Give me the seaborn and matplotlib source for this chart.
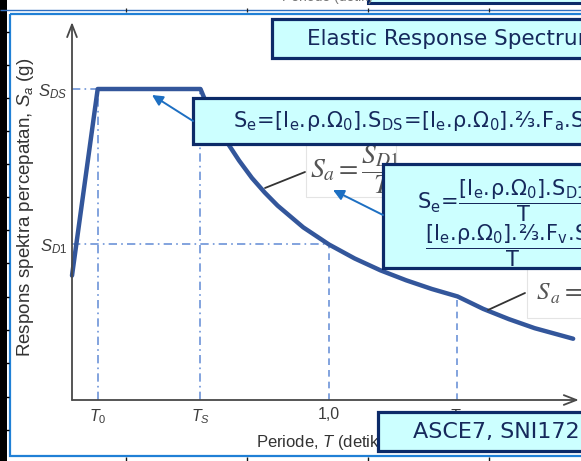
import numpy as np
import pandas as pd
import matplotlib.pyplot as plt
import seaborn as sns
from matplotlib.patches import Rectangle, FancyArrowPatch

# spectrum parameters (Sa expressed in units of S_DS)
S_DS = 1.0
S_D1 = 0.5
T_0 = 0.1
T_S = 0.5
T_L = 1.5

# points
period = [0.0, 0.1, 0.5, 0.52, 0.55, 0.6, 0.65, 0.7, 0.75, 0.8, 0.9, 1.0,
          1.1, 1.2, 1.3, 1.4, 1.5, 1.6, 1.7, 1.8, 1.95]
sa = [0.40, 1.0, 1.0, 0.96, 0.91, 0.833, 0.77, 0.714, 0.667, 0.625, 0.555, 0.50,
      0.455, 0.417, 0.385, 0.357, 0.333, 0.293, 0.26, 0.231, 0.197]

x_ticks = [T_0, T_S, 1.0, T_L]
x_ticklabels = [r'$\mathit{T_0}$', r'$\mathit{T_S}$', '1,0', r'$\mathit{T_L}$']
y_ticks = [S_D1, S_DS]
y_ticklabels = [r'$\mathit{S_{D1}}$', r'$\mathit{S_{DS}}$']

x_label = r'Periode, $\mathit{T}$ (detik)'
y_label = r'Respons spektra percepatan, $\mathit{S_a}$ (g)'
title_text = 'Elastic Response Spectrum'
# ".\!" and "\!=\!" cancel mathtext's automatic spacing around dots and "="
formula_ds = (r'$\mathregular{S_e\!=\![I_e.\!\rho.\!\Omega_0].\!S_{DS}\!=\!'
              r'[I_e.\!\rho.\!\Omega_0].\!⅔.\!F_a.\!S_S}$')
formula_d1 = r'$\mathregular{S_e\!=\!\dfrac{[I_e.\!\rho.\!\Omega_0].\!S_{D1}}{T}}$'
formula_d1b = r'$\mathregular{\dfrac{[I_e.\!\rho.\!\Omega_0].\!⅔.\!F_v.\!S_1}{T}}$'
code_text = 'ASCE7, SNI1726'

CURVE = '#33569b'
GUIDE = '#6d94d8'
AXIS = '#484848'
BOX_FILL = '#ccffff'
BOX_EDGE = '#0c2a68'
BOX_TEXT = '#16295c'
ARROW = '#1d6fc2'
FRAME = '#2080d6'

sns.set_style('white')
plt.rcParams['font.family'] = ['DejaVu Sans']
plt.rcParams['mathtext.fontset'] = 'custom'
plt.rcParams['mathtext.it'] = 'Liberation Sans:italic'
plt.rcParams['mathtext.rm'] = 'Liberation Sans'
plt.rcParams['mathtext.sf'] = 'Liberation Sans'
plt.rcParams['mathtext.bf'] = 'Liberation Sans:bold'

W, H = 581, 461
fig = plt.figure(figsize=(W / 100, H / 100), dpi=100)
fig.patch.set_facecolor('white')

# chart axes: origin at pixel (72, 400), 1 s = 257 px, S_DS = 311 px
ax = fig.add_axes([72 / W, (H - 400) / H, (W - 72) / W, 379 / H])
ax.set_xlim(0, (W - 72) / 257)
ax.set_ylim(0, 379 / 311)
ax.patch.set_alpha(0)

# guide lines
ax.hlines(S_DS, 0, T_0, color=GUIDE, lw=1.2, linestyles=(0, (5, 2.5, 1, 2.5)))
ax.hlines(S_D1, 0, 1.0, color=GUIDE, lw=1.2, linestyles=(0, (5, 2.5, 1, 2.5)))
ax.vlines([T_0, T_S], 0, S_DS, color=GUIDE, lw=1.2, linestyles=(0, (5, 2.5, 1, 2.5)))
ax.vlines(1.0, 0, S_D1, color=GUIDE, lw=1.2, linestyles=(0, (4, 3)))
ax.vlines(T_L, 0, sa[period.index(T_L)], color=GUIDE, lw=1.2, linestyles=(0, (4, 3)))

sns.lineplot(x=period, y=sa, ax=ax, sort=False, color=CURVE, lw=3.2,
             solid_joinstyle='round', clip_on=False, zorder=3)

for s in ax.spines.values():
    s.set_visible(False)
ax.annotate('', xy=(0, 1.215), xytext=(0, 0), annotation_clip=False,
            arrowprops=dict(arrowstyle='->,head_length=0.9,head_width=0.35',
                            color=AXIS, lw=1.3, shrinkA=0, shrinkB=0))
ax.annotate('', xy=(1.972, 0), xytext=(0, 0), annotation_clip=False,
            arrowprops=dict(arrowstyle='->,head_length=0.9,head_width=0.35',
                            color=AXIS, lw=1.3, shrinkA=0, shrinkB=0))

ax.set_xticks(x_ticks, x_ticklabels, fontfamily='Liberation Sans', fontsize=11.5, color='#3c3c3c')
ax.set_yticks(y_ticks, y_ticklabels, fontfamily='Liberation Sans', fontsize=12, color='#3c3c3c')
ax.tick_params(axis='x', length=0, pad=5)
ax.tick_params(axis='y', length=0, pad=3.5)
ax.set_xlabel(x_label, fontfamily='Liberation Sans', fontsize=12, color='#333333')
ax.set_ylabel(y_label, fontfamily='Liberation Sans', fontsize=13.5, color='#333333')
ax.xaxis.set_label_coords((320 - 72) / 509, -33 / 379)
ax.yaxis.set_label_coords((36 - 72) / 509, (400 - 207) / 379)

# slide decorations in pixel coordinates
deco = fig.add_axes([0, 0, 1, 1], zorder=5)
deco.set_xlim(0, W)
deco.set_ylim(H, 0)
deco.axis('off')
deco.patch.set_alpha(0)

# window frame / rulers
deco.add_patch(Rectangle((0, 0), 7, H, fc='black', ec='none'))
deco.hlines([32, 65, 98, 131, 164, 197, 230, 263, 297, 330, 363, 397, 430],
            6, 9, color='black', lw=1)
deco.hlines(10.5, 0, W, color='#2f6fc0', lw=1.0)
deco.vlines([126, 247, 368, 489], 8.5, 12.5, color='#222222', lw=0.9)
deco.vlines([126, 247, 368, 489], 457, 461, color='#111111', lw=1)
deco.add_patch(Rectangle((9.5, 14), 620, 442, fc='none', ec=FRAME, lw=1.6))
deco.add_patch(Rectangle((368, -8), 240, 11, fc=BOX_FILL, ec=BOX_EDGE, lw=2.2))
deco.text(282, 1.5, 'Periode (detik)', fontfamily='Liberation Sans', fontsize=10,
          color='#777777', va='baseline', ha='left')

# pasted formula pictures
deco.add_patch(Rectangle((306, 140), 90, 57, fc='white', ec='#e4e4e4', lw=0.8, zorder=1))
deco.text(310, 170, r'$S_a = \dfrac{S_{D1}}{T}$', math_fontfamily='stix', fontsize=20,
          color='#555555', va='center', ha='left', zorder=2)
deco.plot([265, 305], [188, 172], color='#333333', lw=1.3, zorder=2)
deco.add_patch(Rectangle((527, 268), 80, 50, fc='white', ec='#e4e4e4', lw=0.8, zorder=1))
deco.text(536, 300, r'$S_{\,a}=\dfrac{S_{D1}T_L}{T^2}$', math_fontfamily='stix', fontsize=18,
          color='#555555', va='baseline', ha='left', zorder=2)
deco.plot([488, 525], [310, 293], color='#333333', lw=1.3, zorder=2)

# callout boxes
for x0, y0, x1, y1 in [(272, 19, 620, 58), (193, 98, 620, 144),
                       (383, 164, 620, 268), (378, 412, 620, 451)]:
    deco.add_patch(Rectangle((x0, y0), x1 - x0, y1 - y0, fc=BOX_FILL, ec=BOX_EDGE,
                             lw=2.3, zorder=4))

deco.text(307, 39, title_text, fontsize=15.5, color=BOX_TEXT, va='center', ha='left', zorder=6)
deco.text(233, 121, formula_ds, fontsize=15, color=BOX_TEXT, va='center', ha='left', zorder=6)
deco.text(417, 201, formula_d1, fontsize=15, color=BOX_TEXT, va='center', ha='left', zorder=6)
deco.text(425, 246, formula_d1b, fontsize=15, color=BOX_TEXT, va='center', ha='left', zorder=6)
deco.text(413, 432, code_text, fontsize=16, color=BOX_TEXT, va='center', ha='left', zorder=6)

deco.add_patch(FancyArrowPatch((193, 121), (152, 95), arrowstyle='-|>', mutation_scale=16,
                               color=ARROW, lw=1.4, shrinkA=0, shrinkB=0, zorder=5))
deco.add_patch(FancyArrowPatch((383, 215), (333, 190), arrowstyle='-|>', mutation_scale=16,
                               color=ARROW, lw=1.4, shrinkA=0, shrinkB=0, zorder=5))

fig.savefig('out.png', dpi=100)
